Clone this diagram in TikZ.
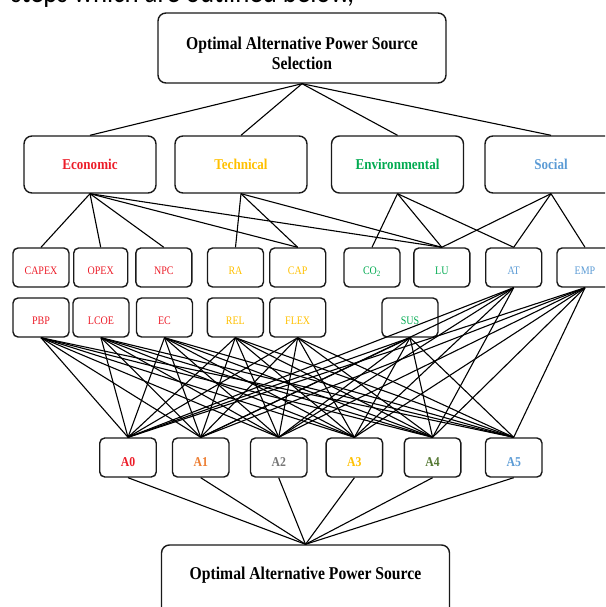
\documentclass[tikz,border=0pt]{standalone}
\usepackage{fontspec}
\setmainfont{Liberation Serif}[FakeStretch=0.87]
\newfontfamily\introfont{Carlito}[FakeStretch=0.87]
\definecolor{econ}{RGB}{236,28,40}
\definecolor{tech}{RGB}{255,192,0}
\definecolor{envi}{RGB}{0,170,80}
\definecolor{soc}{RGB}{91,155,213}
\definecolor{aone}{RGB}{237,125,49}
\definecolor{atwo}{RGB}{118,118,118}
\definecolor{afour}{RGB}{84,120,50}
\begin{document}
\begin{tikzpicture}[x=1pt,y=-1pt,
  box/.style={draw=black!90, line width=1.4pt, inner sep=0pt},
  big/.style={box, rounded corners=8pt, minimum width=288pt, minimum height=70pt},
  bigtext/.style={font=\bfseries\fontsize{18}{20}\selectfont, align=center, inner sep=0pt},
  crit/.style={box, rounded corners=8pt, minimum width=132pt, minimum height=57pt, font=\bfseries\fontsize{15}{17}\selectfont},
  sub/.style={box, rounded corners=5pt, minimum width=56pt, minimum height=39pt, font=\fontsize{11.5}{13}\selectfont, text height=14.5pt, text depth=0pt},
  alt/.style={box, rounded corners=5pt, minimum width=56.5pt, minimum height=39pt, font=\bfseries\fontsize{13.5}{15}\selectfont, text height=17pt, text depth=0pt},
  edge/.style={draw=black, line width=1.1pt}]
\useasboundingbox (0,0) rectangle (605,607);
\clip (0,0) rectangle (605,607);

\node[anchor=base west, inner sep=0pt, font=\introfont\fontsize{30.8}{32}\selectfont] (intro) at (11,3) {steps which are outlined below,};

% goal
\node[big, label={[bigtext, name=goaltext, yshift=-5pt]center:Optimal Alternative Power Source\\Selection}] (goal) at (302,48) {};

% criteria
\node[crit, text=econ] (econ) at (90,164.5) {Economic};
\node[crit, text=tech] (tech) at (241,164.5) {Technical};
\node[crit, text=envi] (envi) at (397.5,164.5) {Environmental};
\node[crit, text=soc] (soc) at (551,164.5) {Social};

% sub-criteria row 1
\node[sub, text=econ] (capex) at (41,267.5) {CAPEX};
\node[sub, text=econ, minimum width=54pt] (opex) at (100.7,267.5) {OPEX};
\node[sub, text=econ] (npc) at (163.8,267.5) {NPC};
\node[sub, text=tech] (ra) at (235.5,267.5) {RA};
\node[sub, text=tech] (cap) at (297.7,267.5) {CAP};
\node[sub, text=envi] (co2) at (372,267.5) {CO\textsubscript{2}};
\node[sub, text=envi] (lu) at (441.8,267.5) {LU};
\node[sub, text=soc] (at) at (513.7,267.5) {AT};
\node[sub, text=soc] (emp) at (585,267.5) {EMP};

% sub-criteria row 2
\node[sub, text=econ] (pbp) at (41,317.5) {PBP};
\node[sub, text=econ] (lcoe) at (101,317.5) {LCOE};
\node[sub, text=econ] (ec) at (164.5,317.5) {EC};
\node[sub, text=tech] (rel) at (235.3,317.5) {REL};
\node[sub, text=tech] (flex) at (297.7,317.5) {FLEX};
\node[sub, text=envi] (sus) at (410,317.5) {SUS};

% alternatives
\node[alt, text=econ] (a0) at (128,457.5) {A0};
\node[alt, text=aone] (a1) at (200.7,457.5) {A1};
\node[alt, text=atwo] (a2) at (278.7,457.5) {A2};
\node[alt, text=tech] (a3) at (354.4,457.5) {A3};
\node[alt, text=afour] (a4) at (432.6,457.5) {A4};
\node[alt, text=soc] (a5) at (513.7,457.5) {A5};

% result
\node[big, label={[bigtext, name=resulttext, yshift=5pt]center:Optimal Alternative Power Source}] (result) at (305.5,580) {};

% goal -> criteria
\foreach \c in {econ,tech,envi,soc}
  \draw[edge] (goal.south) -- (\c.north);

% criteria -> sub-criteria
\foreach \s in {capex,opex,npc,cap,lu}
  \draw[edge] (econ.south) -- (\s.north);
\foreach \s in {ra,cap,lu}
  \draw[edge] (tech.south) -- (\s.north);
\foreach \s in {co2,lu,at}
  \draw[edge] (envi.south) -- (\s.north);
\foreach \s in {lu,at,emp}
  \draw[edge] (soc.south) -- (\s.north);

% sub-criteria -> alternatives
\foreach \s in {pbp,lcoe,ec,rel,flex,sus,emp}
  \foreach \a in {a0,a1,a2,a3,a4,a5}
    \draw[edge] (\s.south) -- (\a.north);
\foreach \a in {a0,a1,a2,a3,a4}
  \draw[edge] (at.south) -- (\a.north);

% alternatives -> result
\foreach \a in {a0,a1,a2,a3,a4,a5}
  \draw[edge] (\a.south) -- (result.north);
\end{tikzpicture}
\end{document}
